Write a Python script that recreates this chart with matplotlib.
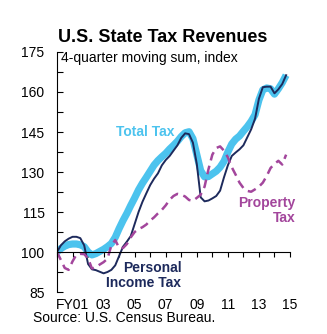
import numpy as np
import matplotlib.pyplot as plt

plt.rcParams['font.family'] = ['Liberation Sans', 'DejaVu Sans']

# Quarterly index values, FY2000 Q1 = 100
quarters = 2000 + np.arange(60) / 4

total_tax = [100.0, 101.3, 102.2, 102.8, 103.0, 103.0, 102.7, 102.0,
             100.0, 98.9, 99.4, 100.2, 101.0, 102.0, 103.2, 105.5,
             108.8, 111.8, 114.5, 117.5, 120.3, 123.3, 125.8, 128.0,
             130.3, 132.6, 134.3, 135.7, 137.0, 138.6, 140.0, 141.5,
             143.3, 144.7, 145.1, 142.5, 136.5, 130.5, 128.2, 128.3,
             129.3, 130.3, 131.8, 134.0, 137.5, 140.5, 142.3, 143.5,
             145.3, 147.0, 149.0, 151.5, 157.0, 160.8, 161.5, 161.2,
             159.2, 161.2, 163.5, 166.3]

income_tax = [100.0, 102.5, 104.0, 105.0, 105.7, 105.7, 105.2, 102.5,
              95.5, 93.5, 93.2, 92.6, 92.0, 92.5, 93.3, 95.0,
              98.5, 102.0, 103.9, 106.0, 110.5, 115.0, 118.8, 122.0,
              125.1, 127.5, 129.5, 132.5, 134.5, 136.0, 138.0, 140.0,
              142.8, 144.5, 144.2, 141.0, 133.0, 120.5, 119.0, 119.3,
              120.1, 121.0, 123.0, 128.0, 132.5, 136.0, 137.3, 138.5,
              140.0, 143.0, 146.0, 150.0, 157.5, 161.8, 162.0, 162.0,
              159.5, 161.0, 163.0, 166.3]

property_tax = [100.0, 97.0, 94.0, 93.3, 96.5, 99.0, 99.3, 99.2,
                97.6, 93.8, 94.3, 95.3, 96.2, 97.5, 102.5, 104.5,
                101.5, 101.5, 103.0, 105.5, 107.5, 108.6, 109.3, 110.3,
                111.8, 113.0, 114.5, 115.8, 117.5, 119.6, 121.0, 121.8,
                121.5, 120.8, 119.5, 119.2, 120.3, 121.5, 124.5, 131.0,
                136.5, 139.0, 139.6, 138.0, 135.5, 131.8, 129.0, 126.0,
                124.0, 122.9, 122.6, 123.5, 124.5, 126.0, 128.5, 131.5,
                133.0, 134.2, 132.8, 136.5]

year_ticks = np.arange(2000, 2016)
year_labels = ['FY01', '03', '05', '07', '09', '11', '13', '15']
y_major = np.arange(85, 176, 15)
y_minor = np.arange(85, 176, 7.5)

c_total = '#4cc3ee'
c_income = '#1d2a5c'
c_property = '#a3469c'

fig = plt.figure(figsize=(3.27, 3.34), dpi=100)
ax = fig.add_axes([57 / 327, 1 - 292 / 334, 233 / 327, 240 / 334])

ax.plot(quarters, total_tax, color=c_total, lw=5.2, solid_capstyle='butt')
ax.plot(quarters, income_tax, color=c_income, lw=1.4)
ax.plot(quarters, property_tax, color=c_property, lw=1.8, dashes=(3.5, 2.2))

ax.set_xlim(2000, 2015)
ax.set_ylim(85, 175)

# y axis: inward ticks, labels every 15
ax.set_yticks(y_major)
ax.set_yticks(y_minor, minor=True)
ax.tick_params(axis='y', which='both', direction='in', length=4, width=0.8,
               labelsize=10, pad=9)

# x axis sits on the 100 line, labels pushed below the plot
ax.spines['bottom'].set_position(('data', 100))
ax.set_xticks(year_ticks[1::2])
ax.set_xticklabels(year_labels)
ax.set_xticks(year_ticks, minor=True)
ax.tick_params(axis='x', which='both', direction='out', length=3.5, width=0.8,
               labelsize=10)
ax.tick_params(axis='x', which='major', pad=29.5)

for s in ['top', 'right']:
    ax.spines[s].set_visible(False)
ax.spines['left'].set_linewidth(0.8)
ax.spines['bottom'].set_linewidth(0.8)

# series labels
ax.text(2005.65, 145, 'Total Tax', color=c_total, fontsize=10,
        fontweight='bold', ha='center', va='center')
ax.text(2008.0, 91.2, 'Personal\nIncome Tax', color=c_income, fontsize=10,
        fontweight='bold', ha='right', va='center', linespacing=1.1)
ax.text(2015.35, 115.6, 'Property\nTax', color=c_property, fontsize=10,
        fontweight='bold', ha='right', va='center', linespacing=1.1)

fig.text(58 / 327, 1 - 38 / 334, 'U.S. State Tax Revenues', fontsize=13,
         fontweight='bold', va='center')
fig.text(61 / 327, 1 - 58 / 334, '4-quarter moving sum, index', fontsize=10,
         va='center')
fig.text(33 / 327, 1 - 318 / 334, 'Source: U.S. Census Bureau.', fontsize=10,
         va='center')

fig.savefig('out.png', dpi=100)
